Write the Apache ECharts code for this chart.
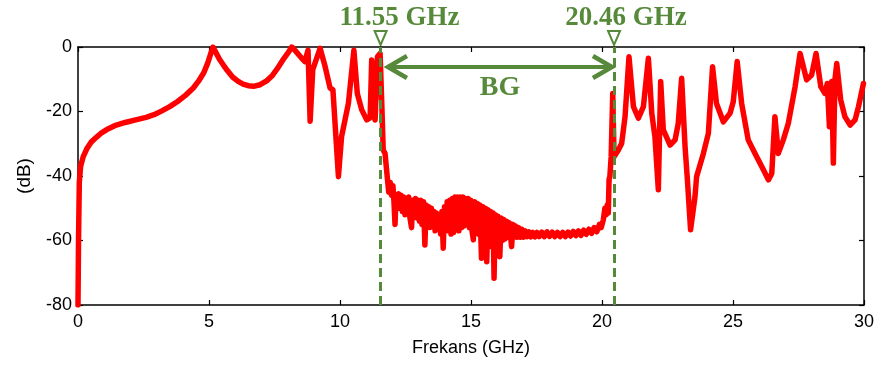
<!DOCTYPE html>
<html>
<head>
<meta charset="UTF-8">
<title>Frekans - dB</title>
<script src="https://cdn.jsdelivr.net/npm/echarts@6/dist/echarts.min.js"></script>
<style>
  html, body { margin: 0; padding: 0; background: #fff; }
</style>
</head>
<body>
<div id="main" style="width: 882px;height:369px;"></div>

<script type="text/javascript">
// band edges (GHz) and labels
var edges = [11.55, 20.46];
var edgeLabels = ['11.55 GHz', '20.46 GHz'];
var bandLabel = 'BG';
var xTicks = [0, 5, 10, 15, 20, 25, 30];
var yTicks = [-80, -60, -40, -20, 0];

// response below the band: [GHz, dB]
var lowPart = [
  [0, -80], [0.02, -60], [0.05, -42], [0.1, -37], [0.2, -34], [0.34, -31.5],
  [0.5, -29.5], [0.7, -28], [0.9, -26.6], [1.1, -25.6], [1.4, -24.4], [1.8, -23.4],
  [2.2, -22.6], [2.6, -21.8], [2.9, -21], [3.2, -19.8], [3.5, -18.5], [3.8, -16.9],
  [4.1, -15], [4.4, -12.7], [4.6, -10.6], [4.8, -8], [4.95, -5], [5.07, -2], [5.15, 0],
  [5.25, -1.5], [5.4, -3.8], [5.55, -5.6], [5.7, -7.3], [5.9, -9.3], [6.1, -10.6],
  [6.3, -11.5], [6.5, -12], [6.7, -12.2], [6.95, -11.7], [7.2, -10.5], [7.4, -9],
  [7.6, -6.8], [7.82, -4], [8.0, -2], [8.16, 0], [8.3, -1.2], [8.54, -3.5], [8.66, -4.5], [8.78, -1],
  [8.86, -23], [8.96, -7], [9.24, -0.4], [9.43, -6], [9.62, -12.7], [9.73, -13.3],
  [9.94, -40.2], [10.06, -27.8], [10.32, -17.5], [10.53, -1], [10.66, -14.4],
  [10.83, -19.5], [11.02, -22.6], [11.15, -22], [11.21, -4], [11.34, -22.6],
  [11.43, -3], [11.53, -2], [11.59, -16.4], [11.65, -32], [11.72, -33]
];

// noisy stop band
var stopPart = [
  [11.80, -40], [11.86, -45], [11.92, -42], [11.97, -46], [12.02, -43], [12.06, -48],
  [12.10, -55], [12.14, -46], [12.19, -49], [12.23, -45.5], [12.28, -50], [12.33, -46],
  [12.38, -51], [12.43, -46.5], [12.48, -52], [12.52, -47], [12.57, -51], [12.62, -46.5],
  [12.67, -53], [12.73, -56], [12.78, -47.5], [12.83, -52], [12.88, -47], [12.93, -53],
  [12.98, -47.5], [13.03, -54], [13.08, -47.5], [13.13, -55], [13.19, -48], [13.24, -61.4],
  [13.29, -49], [13.34, -55], [13.39, -49.5], [13.44, -56], [13.49, -50], [13.54, -55],
  [13.59, -51], [13.63, -57], [13.68, -51.5], [13.73, -56], [13.78, -52], [13.84, -58],
  [13.89, -51], [13.94, -62.4], [13.99, -49.5], [14.04, -56], [14.09, -48], [14.14, -57],
  [14.19, -47.5], [14.24, -58], [14.29, -47], [14.34, -57.5], [14.39, -46.5], [14.44, -56],
  [14.49, -46.5], [14.54, -57], [14.59, -46.5], [14.64, -56], [14.69, -46.5], [14.74, -55.5],
  [14.79, -47], [14.84, -55], [14.89, -47], [14.94, -56], [14.99, -47.5], [15.04, -57],
  [15.09, -59.8], [15.14, -48], [15.19, -57], [15.24, -48.5], [15.29, -58], [15.34, -49],
  [15.40, -65.5], [15.45, -49.5], [15.50, -60], [15.55, -50], [15.60, -66.6], [15.65, -50.5],
  [15.70, -60], [15.75, -51], [15.80, -62], [15.84, -51.5], [15.88, -71.7], [15.93, -52],
  [15.98, -60], [16.03, -52.5], [16.10, -65], [16.15, -53], [16.20, -60], [16.25, -53.5],
  [16.30, -59.5], [16.36, -54], [16.41, -59], [16.46, -54.5], [16.55, -61.9], [16.60, -55],
  [16.65, -59], [16.70, -55.5], [16.76, -59], [16.82, -56], [16.88, -59], [16.94, -56.5],
  [17.00, -59], [17.07, -57], [17.14, -58.8], [17.21, -57.3], [17.28, -58.9], [17.36, -57.5],
  [17.44, -58.9], [17.52, -57.5], [17.60, -58.8], [17.70, -57.4], [17.80, -58.8], [17.90, -57.3],
  [18.00, -58.7], [18.10, -57.4], [18.20, -58.8], [18.30, -57.5], [18.40, -58.8], [18.50, -57.5],
  [18.60, -58.8], [18.70, -57.4], [18.80, -58.6], [18.90, -57.2], [19.00, -58.5], [19.10, -57],
  [19.20, -58.4], [19.30, -56.8], [19.40, -58.1], [19.50, -56.5], [19.60, -57.8], [19.70, -56],
  [19.80, -57.3], [19.90, -55], [19.97, -56], [20.05, -53.6], [20.11, -50], [20.16, -52],
  [20.20, -49], [20.24, -51.5], [20.27, -41], [20.30, -40.2], [20.35, -34], [20.41, -14.4],
  [20.46, -34]
];

// above the band
var highPart = [
  [20.50, -34], [20.62, -32], [20.75, -29.9], [20.88, -21.6], [21.03, -3], [21.2, -18.5],
  [21.39, -22.1], [21.58, -18.5], [21.77, -3.5], [21.9, -20.6], [22.02, -27.8], [22.15, -44.3],
  [22.24, -10.7], [22.34, -25.7], [22.6, -30.4], [22.79, -28.8], [22.91, -23.7], [23.04, -9.7],
  [23.17, -30.9], [23.26, -41.2], [23.38, -56.7], [23.55, -46.4], [23.61, -40.2], [23.87, -33],
  [24.06, -26.8], [24.22, -6.1], [24.37, -17.5], [24.63, -23.2], [24.89, -20.5], [25.01, -17],
  [25.16, -4.5], [25.33, -17.5], [25.58, -28.8], [25.84, -33], [26.16, -38.1], [26.35, -41.2],
  [26.48, -39.2], [26.6, -21.6], [26.73, -33], [26.92, -28.8], [27.11, -23.7], [27.37, -12.3],
  [27.56, -2], [27.81, -10.2], [28.0, -8.7], [28.17, -2], [28.35, -12.3], [28.51, -14.4],
  [28.6, -11.3], [28.68, -24.7], [28.77, -10.7], [28.83, -36], [28.89, -10.2], [28.96, -5.1],
  [29.11, -16.4], [29.27, -21.6], [29.47, -24.2], [29.66, -22.6], [29.79, -18.5], [29.98, -11.3]
];

var curve = lowPart.concat(stopPart, highPart);

var green = '#568a3a';
var sans = 'Liberation Sans, Arial, sans-serif';
var serif = 'Liberation Serif, Times New Roman, serif';

var myChart = echarts.init(document.getElementById('main'));

var tickStyle = { show: true, inside: true, length: 5, lineStyle: { color: '#000', width: 1.2 } };
var lineStyleAxis = { show: true, onZero: false, lineStyle: { color: '#000', width: 1.5 } };

var option = {
  animation: false,
  grid: { left: 78, right: 18, top: 47, bottom: 64 },
  xAxis: [{
    type: 'value', min: 0, max: 30, interval: 5,
    name: 'Frekans (GHz)', nameLocation: 'middle', nameGap: 34,
    nameTextStyle: { fontFamily: sans, fontSize: 18, color: '#000' },
    axisLine: lineStyleAxis, axisTick: tickStyle,
    axisLabel: { fontFamily: sans, fontSize: 18, color: '#000', margin: 8,
      formatter: function (v) { return xTicks.indexOf(v) >= 0 ? String(v) : ''; } },
    splitLine: { show: false }
  }, {
    type: 'value', min: 0, max: 30, interval: 5, position: 'top',
    axisLine: lineStyleAxis, axisTick: tickStyle,
    axisLabel: { show: false }, splitLine: { show: false }
  }],
  yAxis: [{
    type: 'value', min: -80, max: 0, interval: 20,
    name: '(dB)', nameLocation: 'middle', nameGap: 44,
    nameTextStyle: { fontFamily: sans, fontSize: 19, color: '#000' },
    axisLine: lineStyleAxis, axisTick: tickStyle,
    axisLabel: { fontFamily: sans, fontSize: 18, color: '#000', margin: 6,
      formatter: function (v) { return yTicks.indexOf(v) >= 0 ? String(v) : ''; } },
    splitLine: { show: false }
  }, {
    type: 'value', min: -80, max: 0, interval: 20, position: 'right',
    axisLine: lineStyleAxis, axisTick: tickStyle,
    axisLabel: { show: false }, splitLine: { show: false }
  }],
  series: [{
    type: 'line',
    data: curve,
    showSymbol: false,
    clip: true,
    lineStyle: { color: '#ff0000', width: 5.5, join: 'round', cap: 'round' },
    markLine: {
      silent: true,
      symbol: 'none',
      label: { show: false },
      lineStyle: { color: green, width: 3, type: [9, 5] },
      data: edges.map(function (e) { return { xAxis: e }; })
    }
  }]
};
myChart.setOption(option);

// annotations: markers, labels and the double arrow
var p0 = myChart.convertToPixel({ gridIndex: 0 }, [edges[0], 0]);
var p1 = myChart.convertToPixel({ gridIndex: 0 }, [edges[1], 0]);
var a0 = myChart.convertToPixel({ gridIndex: 0 }, [11.83, -6.2]);
var a1 = myChart.convertToPixel({ gridIndex: 0 }, [20.38, -6.2]);
var topY = p0[1];
var g = [];
[p0, p1].forEach(function (p, i) {
  g.push({
    type: 'polygon',
    shape: { points: [[p[0] - 6, topY - 16], [p[0] + 6, topY - 16], [p[0], topY - 2]] },
    style: { fill: '#fff', stroke: green, lineWidth: 2 }
  });
  g.push({
    type: 'text',
    x: p[0] + (i === 0 ? 19 : 12), y: topY - 29,
    style: { text: edgeLabels[i], fill: green, font: 'bold 27px ' + serif,
      align: 'center', verticalAlign: 'middle' }
  });
});
var ay = a0[1];
g.push({ type: 'line', shape: { x1: a0[0] + 2, y1: ay, x2: a1[0] - 2, y2: ay },
  style: { stroke: green, lineWidth: 4 } });
g.push({ type: 'polyline', shape: { points: [[a0[0] + 19, ay - 11], [a0[0], ay], [a0[0] + 19, ay + 11]] },
  style: { stroke: green, lineWidth: 4.5, fill: null, lineJoin: 'miter' } });
g.push({ type: 'polyline', shape: { points: [[a1[0] - 19, ay - 11], [a1[0], ay], [a1[0] - 19, ay + 11]] },
  style: { stroke: green, lineWidth: 4.5, fill: null, lineJoin: 'miter' } });
g.push({ type: 'text', x: (a0[0] + a1[0]) / 2, y: ay + 21,
  style: { text: bandLabel, fill: green, font: 'bold 28px ' + serif,
    align: 'center', verticalAlign: 'middle' } });
myChart.setOption({ graphic: g });
</script>
</body>
</html>
